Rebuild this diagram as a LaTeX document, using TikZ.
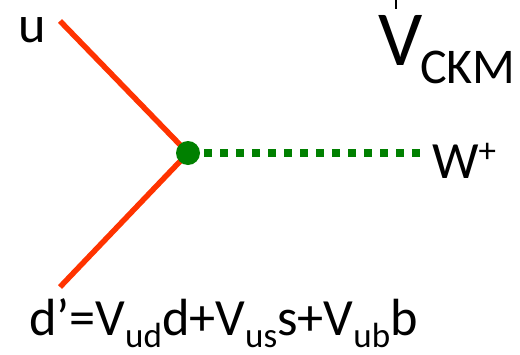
\documentclass[tikz,border=0pt]{standalone}
\usepackage{fontspec}
\setmainfont{Carlito}
\definecolor{quark}{HTML}{FF3300}
\definecolor{boson}{HTML}{008000}
\newcommand{\subtxt}[1]{\raisebox{-12pt}[0pt][0pt]{\fontsize{35}{35}\selectfont #1}}
\tikzset{
  x=1pt,y=-1pt,
  lab/.style={anchor=base west,inner sep=0pt,outer sep=0pt,text=black,font=\fontsize{52.3}{52.3}\selectfont},
  quarkline/.style={draw=quark,line width=5.5pt},
  bosonline/.style={draw=boson,line width=7.5pt,dash pattern=on 8pt off 8pt},
  vertexdot/.style={circle,fill=boson,inner sep=0pt,minimum size=24pt}
}
\begin{document}
\begin{tikzpicture}
\useasboundingbox (0,0) rectangle (520,354);
\coordinate (uend) at (60,21);
\coordinate (dend) at (60,287);
\coordinate (wstart) at (204,153);
\coordinate (wend) at (420,153);
\coordinate (dagtop) at (396,0);
\coordinate (dagbot) at (396,9);
\draw[quarkline] (uend) -- (188,153);
\draw[quarkline] (dend) -- (188,153);
\draw[bosonline] (wstart) -- (wend);
\node[vertexdot] (vertex) at (188,153) {};
\node[lab] (ulabel) at (18,42) {u};
\node[lab] (wlabel) at (432,178) {W\raisebox{16pt}{\fontsize{35}{35}\selectfont +}};
\node[lab,font=\fontsize{78}{78}\selectfont] (vlabel) at (378,65) {V};
\node[lab,font=\fontsize{50}{50}\selectfont] (ckmlabel) at (420,83) {CKM};
\draw[black,line width=2pt] (dagtop) -- (dagbot);
\node[lab] (dlabel) at (29,335) {d’=V\subtxt{ud}d+V\subtxt{us}s+V\subtxt{ub}b};
\end{tikzpicture}
\end{document}
